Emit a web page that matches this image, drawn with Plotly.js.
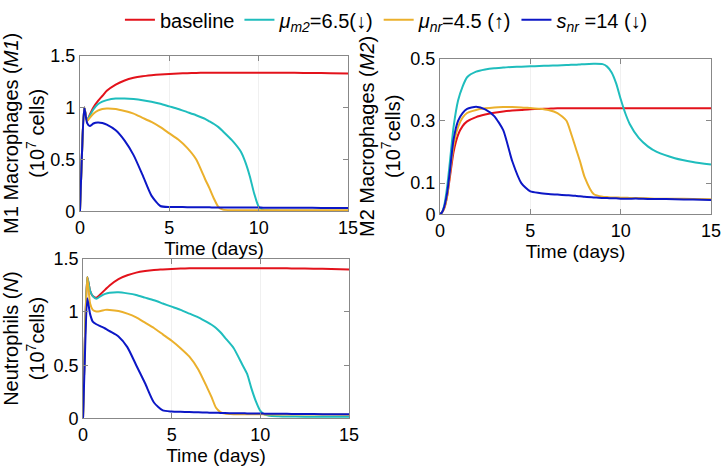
<!DOCTYPE html>
<html>
<head>
<meta charset="utf-8">
<script src="https://cdn.plot.ly/plotly-3.0.1.min.js"></script>
<style>html,body{margin:0;padding:0;background:#fff;}#chart{width:725px;height:467px;}</style>
</head>
<body>
<div id="chart"></div>
<script>
// Time grid (days), shared by all series
const t = [0, 0.1, 0.24, 0.4, 0.55, 0.75, 1, 1.25, 1.5, 2, 2.5, 3, 3.5, 4, 4.5, 5, 5.5, 6, 6.5, 7, 7.25, 7.5, 7.75, 8, 8.5, 9, 9.25, 9.5, 9.75, 10, 10.25, 10.5, 11, 11.5, 12, 13, 14, 15];

const seriesNames = ['baseline', '<i>μ<sub>m2</sub></i>=6.5(↓)', '<i>μ<sub>nr</sub></i>=4.5 (↑)', '<i>s<sub>nr</sub></i> =14 (↓)'];

// M1 macrophages (10^7 cells)
const m1Baseline = [0, 0.5, 1.0, 0.87, 0.93, 1.0, 1.06, 1.11, 1.16, 1.22, 1.26, 1.285, 1.30, 1.31, 1.318, 1.323, 1.327, 1.33, 1.332, 1.334, 1.334, 1.335, 1.335, 1.335, 1.335, 1.335, 1.335, 1.335, 1.335, 1.335, 1.335, 1.335, 1.334, 1.334, 1.333, 1.332, 1.33, 1.328];
const m1Mum2 = [0, 0.5, 1.0, 0.87, 0.92, 0.98, 1.03, 1.055, 1.07, 1.085, 1.085, 1.08, 1.07, 1.055, 1.035, 1.01, 0.985, 0.955, 0.925, 0.89, 0.865, 0.84, 0.81, 0.77, 0.685, 0.575, 0.475, 0.34, 0.17, 0.045, 0.012, 0.008, 0.006, 0.005, 0.005, 0.005, 0.005, 0.005];
const m1Munr = [0, 0.5, 1.0, 0.87, 0.9, 0.94, 0.97, 0.985, 0.99, 0.985, 0.965, 0.94, 0.9, 0.86, 0.81, 0.75, 0.69, 0.61, 0.5, 0.31, 0.22, 0.12, 0.04, 0.015, 0.01, 0.01, 0.01, 0.01, 0.01, 0.01, 0.01, 0.01, 0.01, 0.01, 0.01, 0.01, 0.01, 0.01];
const m1Snr = [0, 0.5, 1.0, 0.85, 0.82, 0.845, 0.855, 0.85, 0.835, 0.78, 0.68, 0.54, 0.35, 0.15, 0.05, 0.04, 0.04, 0.039, 0.038, 0.037, 0.037, 0.036, 0.036, 0.036, 0.035, 0.035, 0.035, 0.035, 0.035, 0.035, 0.034, 0.034, 0.034, 0.033, 0.033, 0.032, 0.031, 0.03];

// M2 macrophages (10^7 cells)
const m2Baseline = [0, 0.005, 0.02, 0.06, 0.12, 0.2, 0.255, 0.283, 0.298, 0.312, 0.32, 0.326, 0.33, 0.333, 0.335, 0.337, 0.338, 0.339, 0.34, 0.34, 0.34, 0.34, 0.34, 0.34, 0.34, 0.34, 0.34, 0.34, 0.34, 0.34, 0.34, 0.34, 0.34, 0.34, 0.34, 0.34, 0.34, 0.34];
const m2Mum2 = [0, 0.005, 0.03, 0.09, 0.17, 0.28, 0.365, 0.41, 0.44, 0.458, 0.465, 0.469, 0.471, 0.473, 0.474, 0.475, 0.476, 0.477, 0.478, 0.479, 0.48, 0.48, 0.481, 0.482, 0.483, 0.482, 0.474, 0.455, 0.42, 0.37, 0.325, 0.29, 0.245, 0.218, 0.2, 0.18, 0.168, 0.16];
const m2Munr = [0, 0.005, 0.02, 0.06, 0.13, 0.22, 0.28, 0.31, 0.325, 0.335, 0.34, 0.343, 0.344, 0.344, 0.343, 0.341, 0.339, 0.335, 0.325, 0.3, 0.26, 0.215, 0.17, 0.12, 0.065, 0.056, 0.055, 0.054, 0.054, 0.053, 0.053, 0.052, 0.052, 0.051, 0.05, 0.05, 0.049, 0.048];
const m2Snr = [0, 0.005, 0.025, 0.07, 0.14, 0.24, 0.3, 0.325, 0.338, 0.345, 0.337, 0.315, 0.27, 0.17, 0.1, 0.073, 0.068, 0.065, 0.063, 0.061, 0.06, 0.059, 0.058, 0.056, 0.054, 0.052, 0.052, 0.051, 0.051, 0.05, 0.05, 0.05, 0.05, 0.049, 0.049, 0.048, 0.047, 0.046];

// Neutrophils (10^7 cells)
const nBaseline = [0, 0.7, 1.33, 1.2, 1.15, 1.135, 1.17, 1.21, 1.25, 1.31, 1.345, 1.37, 1.385, 1.395, 1.4, 1.405, 1.408, 1.41, 1.411, 1.412, 1.412, 1.412, 1.412, 1.412, 1.412, 1.412, 1.412, 1.412, 1.412, 1.412, 1.412, 1.411, 1.41, 1.41, 1.409, 1.407, 1.404, 1.4];
const nMum2 = [0, 0.7, 1.33, 1.2, 1.15, 1.125, 1.15, 1.17, 1.18, 1.185, 1.175, 1.16, 1.135, 1.11, 1.08, 1.05, 1.02, 0.985, 0.95, 0.905, 0.88, 0.85, 0.81, 0.76, 0.66, 0.5, 0.42, 0.28, 0.16, 0.07, 0.035, 0.025, 0.02, 0.018, 0.017, 0.016, 0.015, 0.015];
const nMunr = [0, 0.7, 1.33, 1.08, 1.02, 1.005, 1.01, 1.02, 1.02, 1.01, 0.985, 0.95, 0.9, 0.85, 0.79, 0.73, 0.66, 0.58, 0.46, 0.29, 0.2, 0.1, 0.06, 0.045, 0.04, 0.04, 0.04, 0.039, 0.039, 0.039, 0.038, 0.038, 0.038, 0.037, 0.037, 0.036, 0.036, 0.035];
const nSnr = [0, 0.55, 1.13, 0.98, 0.91, 0.885, 0.865, 0.845, 0.82, 0.77, 0.67, 0.5, 0.33, 0.15, 0.075, 0.065, 0.062, 0.06, 0.058, 0.055, 0.054, 0.053, 0.052, 0.05, 0.049, 0.048, 0.047, 0.047, 0.046, 0.046, 0.045, 0.045, 0.044, 0.043, 0.042, 0.041, 0.04, 0.04];

const colors = ['#e3121b', '#1fbdbd', '#ebb02c', '#0c17c6'];

const xTicks = [0, 5, 10, 15];
const m1Ticks = [0, 0.5, 1, 1.5];
const m1TickText = ['0', '0.5', '1', '1.5'];
const m2Ticks = [0, 0.1, 0.3, 0.5];
const m2TickText = ['0', '0.1', '0.3', '0.5'];
const nTicks = [0, 0.5, 1, 1.5];
const nTickText = ['0', '0.5', '1', '1.5'];

const panels = [
  {xa: 'x', ya: 'y', data: [m1Baseline, m1Mum2, m1Munr, m1Snr], legend: true},
  {xa: 'x2', ya: 'y2', data: [m2Baseline, m2Mum2, m2Munr, m2Snr], legend: false},
  {xa: 'x3', ya: 'y3', data: [nBaseline, nMum2, nMunr, nSnr], legend: false}
];

const traces = [];
panels.forEach(p => {
  p.data.forEach((ys, i) => {
    traces.push({
      x: t, y: ys, xaxis: p.xa, yaxis: p.ya, type: 'scatter', mode: 'lines',
      name: seriesNames[i], showlegend: p.legend, legendgroup: 's' + i,
      line: {color: colors[i], width: 2, shape: 'spline', smoothing: 0.6}
    });
  });
});

const FONT = 'Liberation Sans, Arial, sans-serif';
function xax(domain, anchor, standoff) {
  return {
    domain: domain, anchor: anchor, range: [0, 15], tickvals: xTicks,
    ticks: 'inside', ticklen: 5, tickcolor: '#888', mirror: 'ticks',
    showline: true, linecolor: '#888', linewidth: 1,
    showgrid: true, gridcolor: '#f0f0f0', zeroline: false,
    tickfont: {size: 18, color: '#000', family: FONT},
    title: {text: 'Time (days)', font: {size: 19, color: '#000', family: FONT}, standoff: standoff}
  };
}
function yax(domain, anchor, range, tv, tt, title) {
  return {
    domain: domain, anchor: anchor, range: range, tickvals: tv, ticktext: tt,
    ticks: 'inside', ticklen: 5, tickcolor: '#888', mirror: 'ticks',
    showline: true, linecolor: '#888', linewidth: 1,
    showgrid: false, zeroline: false,
    tickfont: {size: 18, color: '#000', family: FONT},
    title: {text: title, font: {size: 20, color: '#000', family: FONT}, standoff: 4}
  };
}

const layout = {
  width: 725, height: 467,
  margin: {l: 0, r: 0, t: 0, b: 0},
  paper_bgcolor: '#fff', plot_bgcolor: '#fff',
  font: {family: FONT, color: '#000'},
  showlegend: true,
  legend: {orientation: 'h', x: 0.533, xanchor: 'center', y: 1.008, yanchor: 'top',
           font: {size: 20, family: FONT, color: '#000'}, bgcolor: 'rgba(0,0,0,0)', tracegroupgap: 0},
  xaxis: xax([0.1103, 0.48], 'y', 4),
  yaxis: yax([0.5525, 0.8887], 'x', [0, 1.5], m1Ticks, m1TickText, 'M1 Macrophages (<i>M1</i>)<br>(10<sup>7</sup> cells)'),
  xaxis2: xax([0.6069, 0.9807], 'y2', 4),
  yaxis2: yax([0.546, 0.8822], 'x2', [0, 0.5], m2Ticks, m2TickText, 'M2 Macrophages (<i>M2</i>)<br>(10<sup>7</sup>cells)'),
  xaxis3: xax([0.1145, 0.4814], 'y3', 3),
  yaxis3: yax([0.1049, 0.4497], 'x3', [0, 1.5], nTicks, nTickText, 'Neutrophils (<i>N</i>)<br>(10<sup>7</sup>cells)')
};

Plotly.newPlot('chart', traces, layout, {displayModeBar: false, staticPlot: true});
</script>
</body>
</html>
